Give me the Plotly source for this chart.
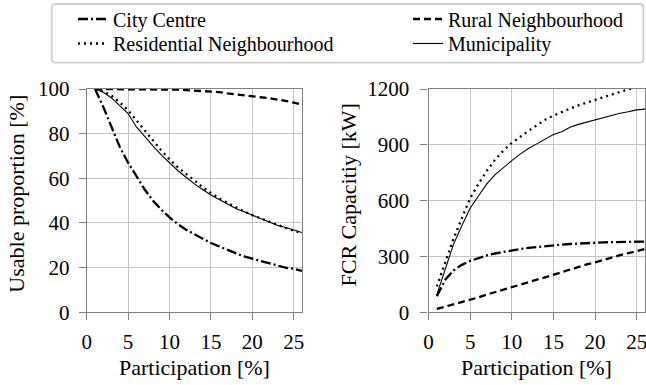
import plotly.graph_objects as go

W, H = 646, 385

participation = list(range(1, 27))

usable_city = [100, 92, 83, 74, 67, 61, 55, 50, 46, 42.5, 39.5, 37, 35, 33, 31, 29.5,
               28, 26.5, 25, 24, 23, 22, 21, 20, 19.5, 18.5]
usable_residential = [100, 99, 97, 94, 90.5, 86, 81, 76.5, 72.5, 68.5, 65, 62, 59, 56,
                      53.5, 51, 49, 47, 45.2, 43.5, 42, 40.5, 39, 37.8, 36.6, 35.3]
usable_rural = [100, 100, 100, 100, 100, 100, 99.9, 99.9, 99.8, 99.8, 99.7, 99.5, 99.3,
                99.1, 99.0, 98.6, 98.0, 97.5, 97.0, 96.6, 96.3, 95.9, 95.4, 94.7, 93.9, 93.0]
usable_municipality = [100, 98.5, 96, 92.5, 89, 83, 78.5, 74.5, 70.5, 67, 63.5, 60.5, 57.5,
                       55, 52.5, 50.5, 48.5, 46.5, 45, 43.5, 42, 40.5, 39, 38, 37, 35.7]

fcr_city = [86, 175, 225, 255, 276, 293, 306, 316, 325, 333, 340, 346, 351, 355, 360, 364,
            367, 370, 372, 374, 376, 377, 378, 379, 380, 380]
fcr_residential = [139, 270, 395, 505, 613, 690, 760, 820, 870, 910, 945, 975, 1005, 1035,
                   1057, 1077, 1095, 1112, 1128, 1142, 1156, 1170, 1184, 1197, 1212, 1225]
fcr_rural = [18, 30, 42, 55, 68, 80, 95, 108, 120, 135, 148, 160, 172, 185, 200, 215, 230,
             245, 257, 268, 282, 295, 307, 318, 330, 340]
fcr_municipality = [95, 232, 365, 465, 559, 625, 690, 740, 780, 815, 850, 880, 905, 930, 955,
                    970, 995, 1010, 1022, 1035, 1048, 1062, 1070, 1078, 1088, 1092]

x_ticks = [0, 5, 10, 15, 20, 25]
y_ticks_left = [0, 20, 40, 60, 80, 100]
y_ticks_right = [0, 300, 600, 900, 1200]

series = [
    ("City Centre", usable_city, fcr_city, dict(color="black", width=2.3, dash="10px,3px,2px,3px"), "legend"),
    ("Rural Neighbourhood", usable_rural, fcr_rural, dict(color="black", width=2.3, dash="7px,4px"), "legend2"),
    ("Residential Neighbourhood", usable_residential, fcr_residential, dict(color="black", width=2.3, dash="2px,4px"), "legend3"),
    ("Municipality", usable_municipality, fcr_municipality, dict(color="black", width=1.1), "legend4"),
]

FONT = "Liberation Serif"

fig = go.Figure()
for name, u, f, line, lg in series:
    fig.add_trace(go.Scatter(x=participation, y=u, mode="lines", name=name, line=line,
                             legend=lg, xaxis="x", yaxis="y"))
    fig.add_trace(go.Scatter(x=participation, y=f, mode="lines", name=name, line=line,
                             showlegend=False, xaxis="x2", yaxis="y2"))

def px_x(p):
    return p / W

def px_y(p):
    return 1 - p / H

axis_common = dict(
    showgrid=True, gridcolor="#c4c4c4", gridwidth=1.2,
    showline=True, linecolor="#808080", linewidth=1.1, mirror=True,
    ticks="outside", ticklen=7, tickwidth=1, tickcolor="#808080",
    tickfont=dict(family=FONT, size=21, color="black"),
    zeroline=False, automargin=False, ticklabeloverflow="allow",
)

ydom = [px_y(312.3), px_y(89)]
fig.update_layout(
    width=W, height=H,
    font=dict(family=FONT, color="black", size=20),
    margin=dict(l=0, r=0, t=0, b=0, autoexpand=False),
    paper_bgcolor="white", plot_bgcolor="white",
    xaxis=dict(domain=[px_x(86.7), px_x(302)], range=[0, 26], tickvals=x_ticks,
               ticklabelstandoff=3, anchor="y", **axis_common),
    yaxis=dict(domain=ydom, range=[0, 100], tickvals=y_ticks_left,
               ticklabelstandoff=5, anchor="x", **axis_common),
    xaxis2=dict(domain=[px_x(428.5), px_x(645)], range=[0, 26], tickvals=x_ticks,
                ticklabelstandoff=3, anchor="y2", **axis_common),
    yaxis2=dict(domain=ydom, range=[0, 1200], tickvals=y_ticks_right,
                ticklabelstandoff=7, anchor="x2", **axis_common),
    showlegend=True,
)

leg_common = dict(orientation="h", xanchor="left", yanchor="top", bgcolor="rgba(0,0,0,0)",
                  borderwidth=0, font=dict(family=FONT, size=20, color="black"))
fig.update_layout(
    legend=dict(x=px_x(73), y=px_y(-0.5), **leg_common),
    legend2=dict(x=px_x(408), y=px_y(-0.5), **leg_common),
    legend3=dict(x=px_x(73), y=px_y(24), **leg_common),
    legend4=dict(x=px_x(408), y=px_y(24), **leg_common),
)

# rounded legend frame
x0, x1 = px_x(51.7), px_x(643.3)
y0, y1 = px_y(62.7), px_y(4)
rx, ry = 4 / W, 4 / H
path = (f"M{x0+rx},{y1} L{x1-rx},{y1} Q{x1},{y1} {x1},{y1-ry} L{x1},{y0+ry} "
        f"Q{x1},{y0} {x1-rx},{y0} L{x0+rx},{y0} Q{x0},{y0} {x0},{y0+ry} "
        f"L{x0},{y1-ry} Q{x0},{y1} {x0+rx},{y1} Z")
fig.add_shape(type="path", path=path, xref="paper", yref="paper",
              line=dict(color="#cfcfcf", width=1.8), fillcolor="rgba(0,0,0,0)")

title_font = dict(family=FONT, size=22, color="black")
fig.add_annotation(text="Usable proportion [%]", textangle=-90, x=px_x(16.7), y=px_y(194),
                   xref="paper", yref="paper", xanchor="center", yanchor="middle",
                   showarrow=False, font=title_font)
fig.add_annotation(text="FCR Capacitiy [kW]", textangle=-90, x=px_x(348.5), y=px_y(195),
                   xref="paper", yref="paper", xanchor="center", yanchor="middle",
                   showarrow=False, font=title_font)
fig.add_annotation(text="Participation [%]", x=px_x(194.3), y=px_y(367),
                   xref="paper", yref="paper", xanchor="center", yanchor="middle",
                   showarrow=False, font=title_font)
fig.add_annotation(text="Participation [%]", x=px_x(536.8), y=px_y(367),
                   xref="paper", yref="paper", xanchor="center", yanchor="middle",
                   showarrow=False, font=title_font)

fig.write_html("out.html")
